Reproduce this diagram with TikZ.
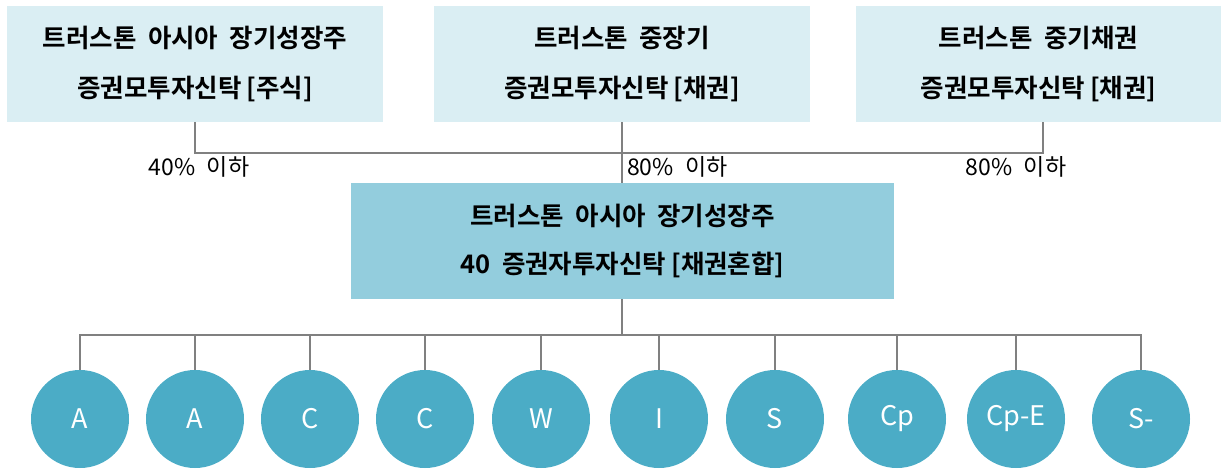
\documentclass[tikz,border=0pt]{standalone}
\usepackage{fontspec}
\setmainfont{Noto Sans CJK KR}
\newfontfamily\krb{Noto Sans CJK KR Bold}
\definecolor{lightbox}{HTML}{DAEEF3}
\definecolor{midbox}{HTML}{93CDDD}
\definecolor{circ}{HTML}{4BACC6}
\definecolor{conn}{HTML}{808080}
\newcommand{\ws}{\hspace{0.45em}}
\begin{document}
\begin{tikzpicture}[x=1pt,y=-1pt,
  fundbox/.style={fill=lightbox,draw=none,minimum height=116pt,inner sep=0pt,align=center,
     font=\krb\fontsize{25.5}{50}\selectfont},
  mainbox/.style={fill=midbox,draw=none,minimum width=543pt,minimum height=116pt,inner sep=0pt,align=center,
     font=\krb\fontsize{25.5}{48}\selectfont},
  classnode/.style={circle,fill=circ,draw=none,minimum size=98pt,inner sep=0pt,text=white,
     font=\fontsize{27}{30}\selectfont},
  pct/.style={inner sep=0pt,font=\fontsize{23}{26}\selectfont},
  link/.style={draw=conn,line width=2pt}]
\useasboundingbox (0,0) rectangle (1228,469);
\node[fundbox,minimum width=376pt] (f1) at (195,64) {트러스톤\ws 아시아\ws 장기성장주\\증권모투자신탁\hspace{0.2em}[주식]};
\node[fundbox,minimum width=376pt] (f2) at (622,64) {트러스톤\ws 중장기\\증권모투자신탁\hspace{0.2em}[채권]};
\node[fundbox,minimum width=365pt] (f3) at (1038.5,64) {트러스톤\ws 중기채권\\증권모투자신탁\hspace{0.2em}[채권]};
\node[mainbox] (m) at (622.5,241) {트러스톤\ws 아시아\ws 장기성장주\\40\ws 증권자투자신탁\hspace{0.2em}[채권혼합]};
\coordinate (j1) at (195,153);
\coordinate (j3) at (1043,153);
\draw[link] (f1.south -| j1) -- (j1) -- (j3) -- (f3.south -| j3);
\draw[link] (f2.south) -- (m.north -| f2.south);
\node[pct] (p1) at (199,167) {40\%\hspace{0.5em}이하};
\node[pct,anchor=west] (p2) at (627,167) {80\%\hspace{0.5em}이하};
\node[pct] (p3) at (1016,167) {80\%\hspace{0.5em}이하};
\foreach \n/\x/\t in {c1/80/A,c2/195/A,c3/310/C,c4/425/C,c5/541/W,c6/659/I,c7/775/S,c8/897/Cp,c9/1016/Cp-E,c10/1141/S-}{
  \node[classnode] (\n) at (\x,419) {\t};
}
\coordinate (bj) at (622,335);
\draw[link] (m.south -| bj) -- (bj);
\draw[link] (c1.north) -- (c1.north |- bj) -- (c10.north |- bj) -- (c10.north);
\foreach \n in {c2,c3,c4,c5,c6,c7,c8,c9}{
  \draw[link] (\n.north) -- (\n.north |- bj);
}
\end{tikzpicture}
\end{document}
